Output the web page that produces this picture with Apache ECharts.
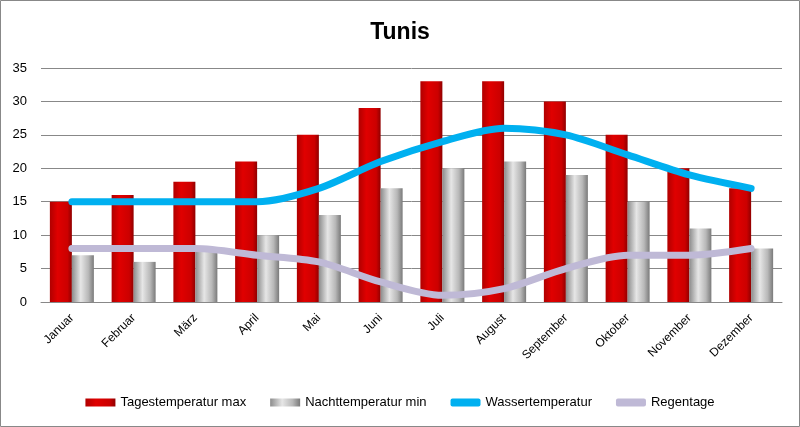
<!DOCTYPE html>
<html>
<head>
<meta charset="utf-8">
<script src="https://cdn.jsdelivr.net/npm/echarts@6/dist/echarts.min.js"></script>
<style>
  html, body { margin: 0; padding: 0; background: #fff; }
  #chart { width: 800px; height: 427px; }
</style>
</head>
<body>
<div id="chart"></div>
<script>
    var months = ['Januar', 'Februar', 'März', 'April', 'Mai', 'Juni', 'Juli', 'August', 'September', 'Oktober', 'November', 'Dezember'];
    var tempMax = [15, 16, 18, 21, 25, 29, 33, 33, 30, 25, 20, 17];
    var tempMin = [7, 6, 8, 10, 13, 17, 20, 21, 19, 15, 11, 8];
    var water = [15, 15, 15, 15, 17, 21, 24, 26, 25, 22, 19, 17];
    var rain = [8, 8, 8, 7, 6, 3, 1, 2, 5, 7, 7, 8];

    var font = 'Liberation Sans';

    var redFill = new echarts.graphic.LinearGradient(0, 0, 1, 0, [
        { offset: 0, color: '#b00000' },
        { offset: 0.35, color: '#e00000' },
        { offset: 0.8, color: '#cc0000' },
        { offset: 1, color: '#900000' }
    ]);
    var greyFill = new echarts.graphic.LinearGradient(0, 0, 1, 0, [
        { offset: 0, color: '#8c8c8c' },
        { offset: 0.4, color: '#e6e6e6' },
        { offset: 0.75, color: '#b8b8b8' },
        { offset: 1, color: '#7a7a7a' }
    ]);

    var chart = echarts.init(document.getElementById('chart'));
    chart.setOption({
        animation: false,
        title: {
            text: 'Tunis',
            left: 'center',
            top: 16,
            textStyle: { fontFamily: font, fontSize: 23, fontWeight: 'bold', color: '#000' }
        },
        graphic: [{
            type: 'rect',
            shape: { x: 0.5, y: 0.5, width: 799, height: 426 },
            style: { fill: 'none', stroke: '#888', lineWidth: 1 },
            silent: true
        }],
        legend: {
            bottom: 13,
            left: 'center',
            itemWidth: 30,
            itemHeight: 8,
            itemGap: 24,
            textStyle: { fontFamily: font, fontSize: 13, color: '#000' },
            data: [
                { name: 'Tagestemperatur max', icon: 'rect' },
                { name: 'Nachttemperatur min', icon: 'rect' },
                { name: 'Wassertemperatur', icon: 'roundRect' },
                { name: 'Regentage', icon: 'roundRect' }
            ]
        },
        grid: { left: 41, right: 18, top: 68, bottom: 125 },
        xAxis: {
            type: 'category',
            data: months,
            axisLine: { lineStyle: { color: '#888' } },
            axisTick: { show: false },
            axisLabel: { interval: 0, rotate: 45, fontFamily: font, fontSize: 12, color: '#000', margin: 14 }
        },
        yAxis: {
            type: 'value',
            min: 0,
            max: 35,
            interval: 5,
            axisLine: { show: false },
            axisTick: { show: false },
            axisLabel: { fontFamily: font, fontSize: 13, color: '#000', margin: 14 },
            splitLine: { lineStyle: { color: '#888' } }
        },
        series: [
            {
                name: 'Tagestemperatur max',
                type: 'bar',
                data: tempMax,
                barWidth: 22,
                barGap: '0%',
                itemStyle: { color: redFill }
            },
            {
                name: 'Nachttemperatur min',
                type: 'bar',
                data: tempMin,
                barWidth: 22,
                barGap: '0%',
                itemStyle: { color: greyFill }
            },
            {
                name: 'Wassertemperatur',
                type: 'line',
                data: water,
                smooth: 0.3,
                showSymbol: false,
                lineStyle: { color: '#00b0f0', width: 7, cap: 'round' },
                itemStyle: { color: '#00b0f0' }
            },
            {
                name: 'Regentage',
                type: 'line',
                data: rain,
                smooth: 0.3,
                showSymbol: false,
                lineStyle: { color: '#bfb9d6', width: 7, cap: 'round' },
                itemStyle: { color: '#bfb9d6' }
            }
        ]
    });
</script>
</body>
</html>
